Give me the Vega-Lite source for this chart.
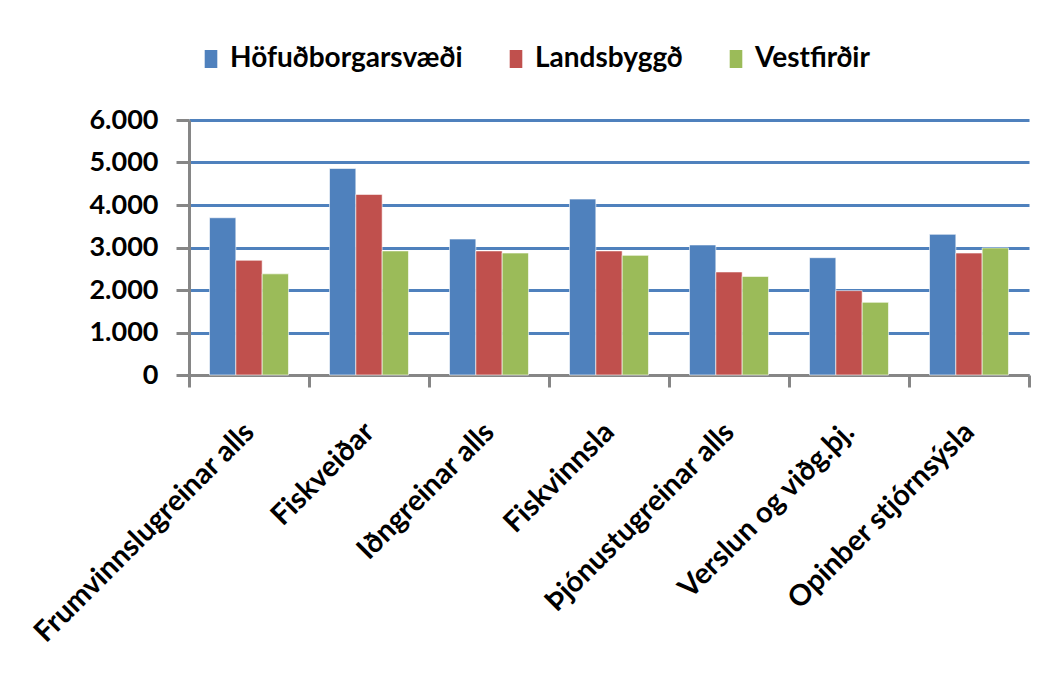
{
  "$schema": "https://vega.github.io/schema/vega-lite/v6.json",
  "width": 840,
  "height": 255,
  "padding": {"left": 28, "top": 45, "right": 20, "bottom": 5},
  "background": "white",
  "data": {
    "values": [
      {"grein": "Frumvinnslugreinar alls", "svaedi": "Höfuðborgarsvæði", "laun": 3700},
      {"grein": "Frumvinnslugreinar alls", "svaedi": "Landsbyggð", "laun": 2700},
      {"grein": "Frumvinnslugreinar alls", "svaedi": "Vestfirðir", "laun": 2380},
      {"grein": "Fiskveiðar", "svaedi": "Höfuðborgarsvæði", "laun": 4860},
      {"grein": "Fiskveiðar", "svaedi": "Landsbyggð", "laun": 4250},
      {"grein": "Fiskveiðar", "svaedi": "Vestfirðir", "laun": 2920},
      {"grein": "Iðngreinar alls", "svaedi": "Höfuðborgarsvæði", "laun": 3200},
      {"grein": "Iðngreinar alls", "svaedi": "Landsbyggð", "laun": 2920},
      {"grein": "Iðngreinar alls", "svaedi": "Vestfirðir", "laun": 2870},
      {"grein": "Fiskvinnsla", "svaedi": "Höfuðborgarsvæði", "laun": 4140},
      {"grein": "Fiskvinnsla", "svaedi": "Landsbyggð", "laun": 2920},
      {"grein": "Fiskvinnsla", "svaedi": "Vestfirðir", "laun": 2815},
      {"grein": "Þjónustugreinar alls", "svaedi": "Höfuðborgarsvæði", "laun": 3060},
      {"grein": "Þjónustugreinar alls", "svaedi": "Landsbyggð", "laun": 2425},
      {"grein": "Þjónustugreinar alls", "svaedi": "Vestfirðir", "laun": 2320},
      {"grein": "Verslun og viðg.þj.", "svaedi": "Höfuðborgarsvæði", "laun": 2760},
      {"grein": "Verslun og viðg.þj.", "svaedi": "Landsbyggð", "laun": 1985},
      {"grein": "Verslun og viðg.þj.", "svaedi": "Vestfirðir", "laun": 1710},
      {"grein": "Opinber stjórnsýsla", "svaedi": "Höfuðborgarsvæði", "laun": 3310},
      {"grein": "Opinber stjórnsýsla", "svaedi": "Landsbyggð", "laun": 2870},
      {"grein": "Opinber stjórnsýsla", "svaedi": "Vestfirðir", "laun": 2990}
    ]
  },
  "mark": {"type": "bar", "stroke": "#ffffff", "strokeOpacity": 0.6, "strokeWidth": 1},
  "encoding": {
    "x": {
      "field": "grein",
      "type": "nominal",
      "sort": null,
      "scale": {"paddingInner": 0, "paddingOuter": 0},
      "axis": {
        "title": null,
        "labelAngle": -45,
        "labelAlign": "right",
        "labelBaseline": "middle",
        "labelFont": "Lato",
        "labelFontWeight": "bold",
        "labelFontSize": 29,
        "labelColor": "#000000",
        "labelPadding": 40,
        "labelLimit": 0,
        "tickBand": "extent",
        "tickSize": 12,
        "tickWidth": 3,
        "tickColor": "#868686",
        "domainColor": "#868686",
        "domainWidth": 3,
        "grid": false
      }
    },
    "xOffset": {
      "field": "svaedi",
      "type": "nominal",
      "sort": ["Höfuðborgarsvæði", "Landsbyggð", "Vestfirðir"],
      "scale": {"paddingInner": 0, "paddingOuter": 0.78}
    },
    "y": {
      "field": "laun",
      "type": "quantitative",
      "scale": {"domain": [0, 6000], "nice": false},
      "axis": {
        "title": null,
        "values": [0, 1000, 2000, 3000, 4000, 5000, 6000],
        "format": ",d",
        "labelFont": "Lato",
        "labelFontWeight": "bold",
        "labelFontSize": 27,
        "labelColor": "#000000",
        "labelPadding": 18,
        "tickSize": 13,
        "tickWidth": 3,
        "tickColor": "#868686",
        "domainColor": "#868686",
        "domainWidth": 3,
        "grid": true,
        "gridColor": "#4F81BD",
        "gridWidth": 3,
        "gridOpacity": 1
      }
    },
    "color": {
      "field": "svaedi",
      "type": "nominal",
      "sort": ["Höfuðborgarsvæði", "Landsbyggð", "Vestfirðir"],
      "scale": {
        "domain": ["Höfuðborgarsvæði", "Landsbyggð", "Vestfirðir"],
        "range": ["#4F81BD", "#C0504D", "#9BBB59"]
      },
      "legend": {
        "title": null,
        "orient": "none",
        "legendX": 8,
        "legendY": -75,
        "direction": "horizontal",
        "symbolType": "M-0.7,-1H0.7V1H-0.7Z",
        "symbolSize": 324,
        "symbolStrokeWidth": 0,
        "labelFont": "Lato",
        "labelFontWeight": "bold",
        "labelFontSize": 28,
        "labelColor": "#000000",
        "labelOffset": 5,
        "columnPadding": 39,
        "labelLimit": 500
      }
    }
  },
  "config": {
    "locale": {
      "number": {"decimal": ",", "thousands": ".", "grouping": [3], "currency": ["", " kr."]}
    },
    "view": {"stroke": null}
  }
}
